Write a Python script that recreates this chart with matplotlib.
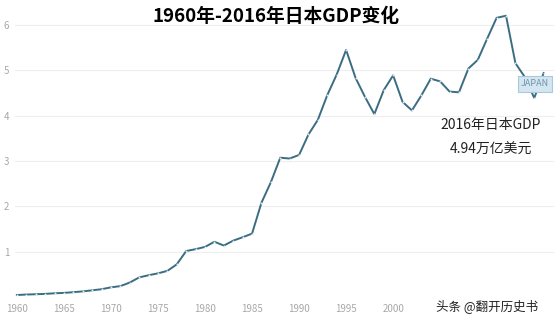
import matplotlib.pyplot as plt

plt.rcParams['font.family'] = ['Noto Sans CJK SC', 'DejaVu Sans']

years = list(range(1960, 2017))
gdp = [0.044, 0.054, 0.061, 0.069, 0.082, 0.091, 0.106, 0.124, 0.147, 0.172,
       0.213, 0.240, 0.319, 0.432, 0.480, 0.522, 0.576, 0.721, 1.014, 1.055,
       1.105, 1.218, 1.135, 1.243, 1.318, 1.398, 2.079, 2.532, 3.072, 3.054,
       3.133, 3.585, 3.909, 4.454, 4.907, 5.449, 4.834, 4.415, 4.033, 4.562,
       4.888, 4.304, 4.115, 4.446, 4.815, 4.755, 4.530, 4.515, 5.038, 5.231,
       5.700, 6.157, 6.203, 5.156, 4.850, 4.389, 4.939]
xticks = [1960, 1965, 1970, 1975, 1980, 1985, 1990, 1995, 2000]
yticks = [1, 2, 3, 4, 5, 6]

fig = plt.figure(figsize=(5.54, 3.2), dpi=100)
ax = fig.add_axes([15 / 554, 20 / 320, 1 - 15 / 554, 295 / 320])

ax.plot(years, gdp, color='#3b6d82', lw=1.4, zorder=3)
ax.scatter(years, gdp, s=2, color='#dfe9ee', zorder=4, lw=0)

ax.set_xlim(1959.8, 2017.1)
ax.set_ylim(-0.066, 6.44)
ax.set_xticks(xticks)
ax.set_yticks(yticks)
ax.tick_params(axis='both', length=0, labelsize=7, labelcolor='#a8a8a8')
ax.tick_params(axis='y', pad=4)
ax.tick_params(axis='x', pad=3)
ax.grid(axis='y', color='#eeeeee', lw=0.8)
ax.set_axisbelow(True)
for s in ax.spines.values():
    s.set_visible(False)

fig.text(276 / 554, 1 - 17 / 320, '1960年-2016年日本GDP变化', ha='center', va='center',
         fontsize=13.5, fontweight='heavy', color='black')
fig.text(535 / 554, 1 - 84 / 320, 'JAPAN', ha='center', va='center',
         fontsize=6.5, color='#6f93ab',
         bbox=dict(boxstyle='square,pad=0.35', fc='#d3e6f1', ec='#a9c9dc', lw=0.8))
fig.text(491 / 554, 1 - 125 / 320, '2016年日本GDP', ha='center', va='center',
         fontsize=10, color='#222222')
fig.text(491 / 554, 1 - 150 / 320, '4.94万亿美元', ha='center', va='center',
         fontsize=10, color='#222222')
fig.text(487 / 554, 1 - 306 / 320, '头条 @翻开历史书', ha='center', va='center',
         fontsize=9, color='#222222')

fig.savefig('out.png', dpi=100)
